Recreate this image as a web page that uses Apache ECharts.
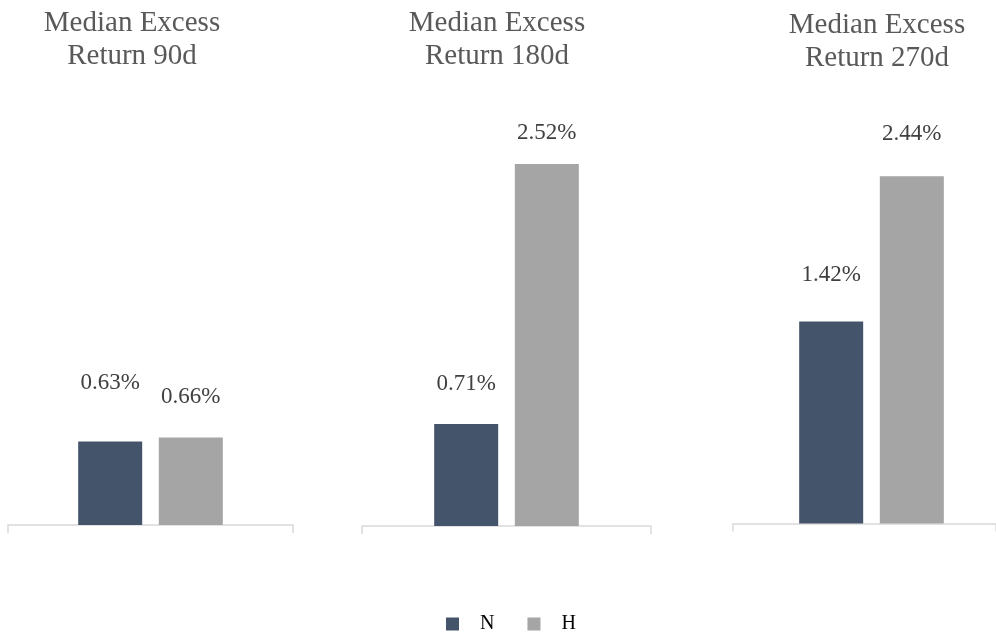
<!DOCTYPE html>
<html>
<head>
<meta charset="utf-8">
<script src="https://cdn.jsdelivr.net/npm/echarts@6/dist/echarts.min.js"></script>
<style>html,body{margin:0;padding:0;background:#fff}#c{width:996px;height:636px}</style>
</head>
<body>
<div id="c"></div>
<script>
const panelTitles = ['Median Excess\nReturn 90d', 'Median Excess\nReturn 180d', 'Median Excess\nReturn 270d'];
const seriesNames = ['N', 'H'];
const nValues = [0.63, 0.71, 1.42];
const hValues = [0.66, 2.52, 2.44];

// layout / style (not data)
const FONT = "'Liberation Serif','Times New Roman',serif";
const colors = ['#44546A', '#A5A5A5'];
// axis frames (visible baseline per panel)
const axisGrids = [
  {left: 8, right: 703, top: 127.5, height: 397.5},
  {left: 362, right: 345, top: 95, height: 431},
  {left: 733, right: 0, top: 96.7, height: 426.8}
];
// plot frames the bars use (panel 3 continues past the right edge of the page)
const barGrids = [0, 1, 3];
const extraGrid = {left: 747, right: 0, top: 96.7, height: 426.8};
const titlePos = [{x: 127, y: 2}, {x: 492, y: 2}, {x: 872, y: 4}];
const labelLift = [[47, 29], [29, 20], [35, 31]];

const allGrids = axisGrids.concat([extraGrid]);
const chart = echarts.init(document.getElementById('c'));
const option = {
  backgroundColor: '#fff',
  animation: false,
  title: panelTitles.map((t, i) => ({
    text: t,
    left: titlePos[i].x,
    top: titlePos[i].y,
    textAlign: 'center',
    textStyle: {fontFamily: FONT, fontSize: 29, fontWeight: 'normal', color: '#595959', lineHeight: 33}
  })),
  legend: {
    top: 609,
    left: 441,
    icon: 'rect',
    itemWidth: 13,
    itemHeight: 13,
    itemGap: 33,
    data: seriesNames,
    textStyle: {fontFamily: FONT, fontSize: 20, color: '#000', padding: [0, 0, 0, 16]}
  },
  grid: allGrids.map(g => ({left: g.left, right: g.right, top: g.top, height: g.height})),
  xAxis: allGrids.map((g, i) => ({
    type: 'category', gridIndex: i, data: [''],
    show: i < 3,
    axisLine: {lineStyle: {color: '#D9D9D9', width: 1.5}},
    axisTick: {show: true, length: 8, lineStyle: {color: '#D9D9D9', width: 1.5}},
    axisLabel: {show: false}
  })),
  yAxis: allGrids.map((g, i) => ({type: 'value', gridIndex: i, min: 0, max: 3, show: false})),
  series: []
};
const valsBySeries = [nValues, hValues];
for (let p = 0; p < panelTitles.length; p++) {
  for (let s = 0; s < seriesNames.length; s++) {
    option.series.push({
      type: 'bar',
      name: seriesNames[s],
      xAxisIndex: barGrids[p],
      yAxisIndex: barGrids[p],
      barWidth: 64,
      barGap: '26%',
      itemStyle: {color: colors[s]},
      label: {
        show: true,
        position: 'top',
        distance: labelLift[p][s],
        fontFamily: FONT,
        fontSize: 23,
        color: '#404040',
        formatter: d => d.value.toFixed(2) + '%'
      },
      data: [valsBySeries[s][p]]
    });
  }
}
chart.setOption(option);
</script>
</body>
</html>
